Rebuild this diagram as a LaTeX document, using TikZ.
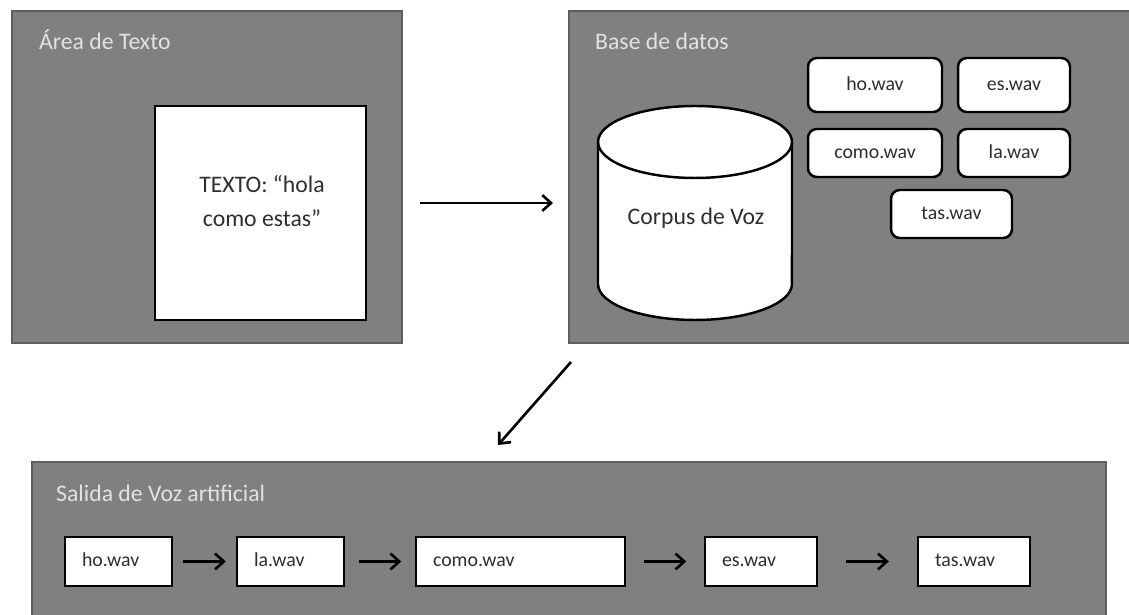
\documentclass[tikz,border=0pt]{standalone}
\usepackage{fontspec}
\setmainfont{Carlito}
\usetikzlibrary{arrows.meta}
\definecolor{PanelGray}{HTML}{808080}
\definecolor{PanelEdge}{HTML}{5E5E5E}
\definecolor{TitleGray}{HTML}{E2E2E2}
\definecolor{InkGray}{HTML}{2E2E2E}

\begin{document}
\begin{tikzpicture}[x=0.02cm, y=0.02cm,
    panel/.style={draw=PanelEdge, line width=1.2pt, fill=PanelGray, inner sep=0pt},
    paneltitle/.style={anchor=base west, text=TitleGray, font=\fontsize{13.5}{16}\selectfont},
    dbfile/.style={draw=black, line width=1.4pt, fill=white, rounded corners=5pt,
                   inner sep=0pt, text height=1.6ex, text depth=0.3ex,
                   text=InkGray, font=\fontsize{11.3}{13}\selectfont},
    outfile/.style={draw=black, line width=1.4pt, fill=white, inner xsep=0.34cm,
                    inner ysep=0pt, minimum height=0.98cm, text width=#1,
                    text height=1.6ex, text depth=0.3ex, align=left,
                    text=InkGray, font=\fontsize{11.3}{13}\selectfont},
    flow/.style={-{Straight Barb[length=5pt, width=9pt]}, line width=1.5pt, black}]
    \useasboundingbox (0,0) rectangle (1129,615);
    \clip (0,0) rectangle (1129,615);

    % the three panels
    \node[panel, minimum width=7.8cm, minimum height=6.64cm] (txtarea) at (207,438) {};
    \node[panel, minimum width=11.42cm, minimum height=6.64cm] (dbarea) at (854.5,438) {};
    \node[panel, minimum width=21.48cm, minimum height=3.36cm] (outarea) at (569,69) {};
    \node[paneltitle] (txttitle) at (33,565) {Área de Texto};
    \node[paneltitle] (dbtitle) at (589,565) {Base de datos};
    \node[paneltitle] (outtitle) at (50,113) {Salida de Voz artificial};

    % text input
    \node[draw=black, line width=1.4pt, fill=white, minimum width=4.22cm,
          minimum height=4.28cm] (txtbox) at (260.5,402) {};
    \node[align=center, text=InkGray, font=\fontsize{13.5}{19.3}\selectfont]
          (txtlabel) at (262,414) {TEXTO: “hola\\como estas”};

    % database
    \draw[line width=1.4pt, fill=white] (598,473) -- (598,331)
        arc[start angle=180, end angle=360, x radius=1.94cm, y radius=0.72cm]
        -- (792,473)
        arc[start angle=0, end angle=180, x radius=1.94cm, y radius=0.72cm] -- cycle;
    \draw[line width=1.4pt] (598,473)
        arc[start angle=180, end angle=360, x radius=1.94cm, y radius=0.72cm];
    \node[text=InkGray, font=\fontsize{13.5}{16}\selectfont] (corpus) at (696,397) {Corpus de Voz};
    \foreach \nm/\txt/\x/\y/\w/\h in {dbho/ho.wav/875/530/2.68/1.08,
        dbes/es.wav/1014/530/2.24/1.08, dbcomo/como.wav/875/462/2.68/0.96,
        dbla/la.wav/1014/462/2.24/0.96, dbtas/tas.wav/951.5/401/2.42/0.96} {
      \node[dbfile, minimum width=\w cm, minimum height=\h cm] (\nm) at (\x,\y) {\txt};
    }

    % output sequence
    \foreach \nm/\txt/\x/\tw in {outho/ho.wav/118.5/1.46, outla/la.wav/290.5/1.46,
        outcomo/como.wav/520.5/3.5, outes/es.wav/761/1.56, outtas/tas.wav/974/1.56} {
      \node[outfile=\tw cm] (\nm) at (\x,53.5) {\txt};
    }
    \foreach \a/\b/\s in {outho/outla/0.2, outla/outcomo/0.27,
        outcomo/outes/0.35, outes/outtas/0.56} {
      \draw[flow, shorten <=\s cm, shorten >=\s cm] (\a) -- (\b);
    }

    % flow between panels
    \coordinate (txtout) at (420,412);
    \coordinate (dbin) at (553,412);
    \coordinate (dbout) at (571,253);
    \coordinate (outin) at (498,170);
    \draw[flow] (txtout) -- (dbin);
    \draw[flow] (dbout) -- (outin);
\end{tikzpicture}
\end{document}
